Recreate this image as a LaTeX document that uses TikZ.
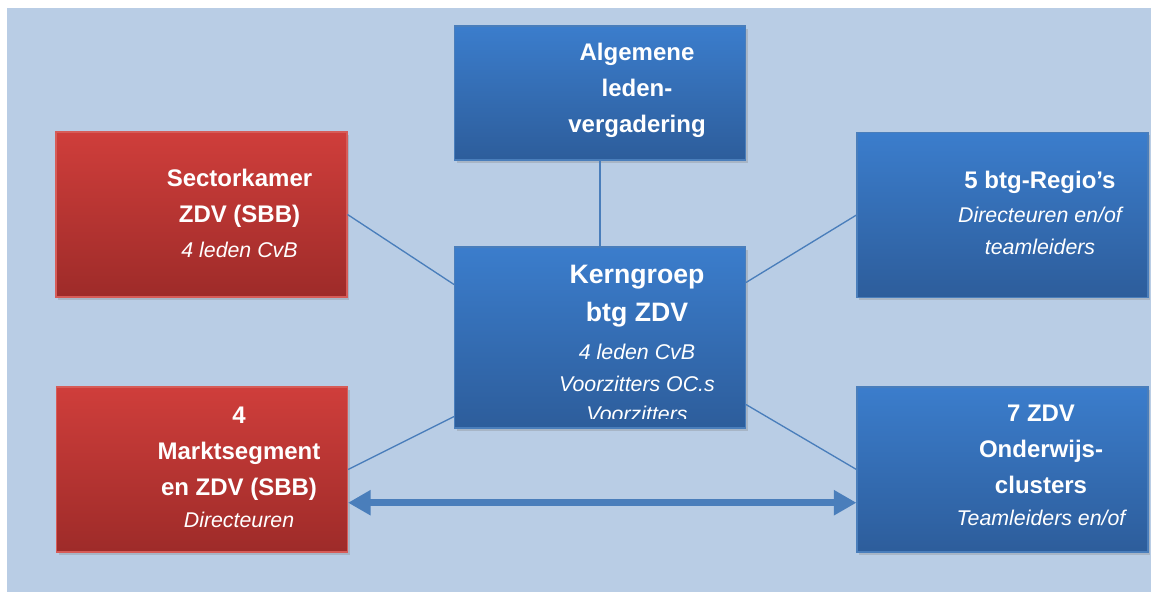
\documentclass[tikz,border=0pt]{standalone}
\usepackage{fontspec}
\setmainfont{Liberation Sans}
\usetikzlibrary{arrows.meta,calc,shadows}

\definecolor{bgblue}{HTML}{B9CDE5}
\definecolor{redtop}{HTML}{CF3E3B}
\definecolor{redbot}{HTML}{9E2B29}
\definecolor{redline}{HTML}{D65C58}
\definecolor{bluetop}{HTML}{3B7DCC}
\definecolor{bluebot}{HTML}{2D5D9B}
\definecolor{blueline}{HTML}{4A7EBB}
\definecolor{linkblue}{HTML}{4A7EBB}

\newcommand{\kop}{\fontsize{18}{27}\selectfont\bfseries}
\newcommand{\grotekop}{\fontsize{20}{29}\selectfont\bfseries}
\newcommand{\onder}{\fontsize{16}{24}\selectfont\mdseries\itshape}

\begin{document}
\begin{tikzpicture}[x=0.75pt,y=-0.75pt,
	box/.style={draw, line width=0.8pt, minimum width=218.25pt, minimum height=123.75pt, inner sep=0pt,
		drop shadow={shadow xshift=1.5pt, shadow yshift=-2pt, opacity=0.3}},
	redbox/.style={box, draw=redline, top color=redtop, bottom color=redbot},
	bluebox/.style={box, draw=blueline, top color=bluetop, bottom color=bluebot},
	txt/.style={text=white, align=center, inner sep=0pt, font=\kop},
	link/.style={draw=linkblue, line width=1pt}]
	\useasboundingbox (0,0) rectangle (1151,592);
	\fill[bgblue] (7,8) rectangle (1151,592);

	% boxes
	\node[bluebox, minimum height=100.5pt] (alg) at (600,93) {};
	\node[bluebox, minimum height=135.75pt] (kern) at (600,337.5) {};
	\node[redbox] (sector) at (201.5,214.5) {};
	\node[redbox] (markt) at (202,469.5) {};
	\node[bluebox] (regio) at (1002.5,215) {};
	\node[bluebox] (onderw) at (1002.5,469.5) {};

	% texts
	\node[txt] (algT) at (637,90) {Algemene\\leden-\\vergadering};
	\node[txt] (sectorT) at (239.5,213.5) {Sectorkamer\\ZDV (SBB)\\[-1pt]\onder 4 leden CvB};
	\node[txt] (marktT) at (239,467) {4\\Marktsegment\\en ZDV (SBB)\\[-3pt]\onder Directeuren};
	\node[txt] (regioT) at (1040,213) {5 btg-Regio’s\\[-1pt]\onder Directeuren en/of\\[-3pt]\onder teamleiders};
	\node[txt] (onderwT) at (1041,465) {7 ZDV\\Onderwijs-\\clusters\\[-3pt]\onder Teamleiders en/of};
	\begin{scope}
		\clip (kern.north west) rectangle ($(kern.south east)+(0,-10)$);
		\node[txt, font=\grotekop, anchor=north] (kernT) at (637,264.5)
			{Kerngroep\\btg ZDV\\[-1pt]\onder 4 leden CvB\\[-5pt]\onder Voorzitters OC.s\\[-6.5pt]\onder Voorzitters};
	\end{scope}

	% connectors
	\draw[link, line width=2.2pt] (alg.south) -- (kern.north);
	\draw[link] (sector.east) -- ($(kern.north west)+(0,38)$);
	\draw[link] (regio.west) -- ($(kern.north east)+(0,36)$);
	\draw[link] (markt.east) -- ($(kern.south west)+(0,-12)$);
	\draw[link] (onderw.west) -- ($(kern.south east)+(0,-24)$);
	\draw[link, line width=5pt, {Triangle[length=17pt,width=18pt]}-{Triangle[length=17pt,width=18pt]}]
		($(markt.north east)!0.7!(markt.south east)$) -- ($(onderw.north west)!0.7!(onderw.south west)$);
\end{tikzpicture}
\end{document}
